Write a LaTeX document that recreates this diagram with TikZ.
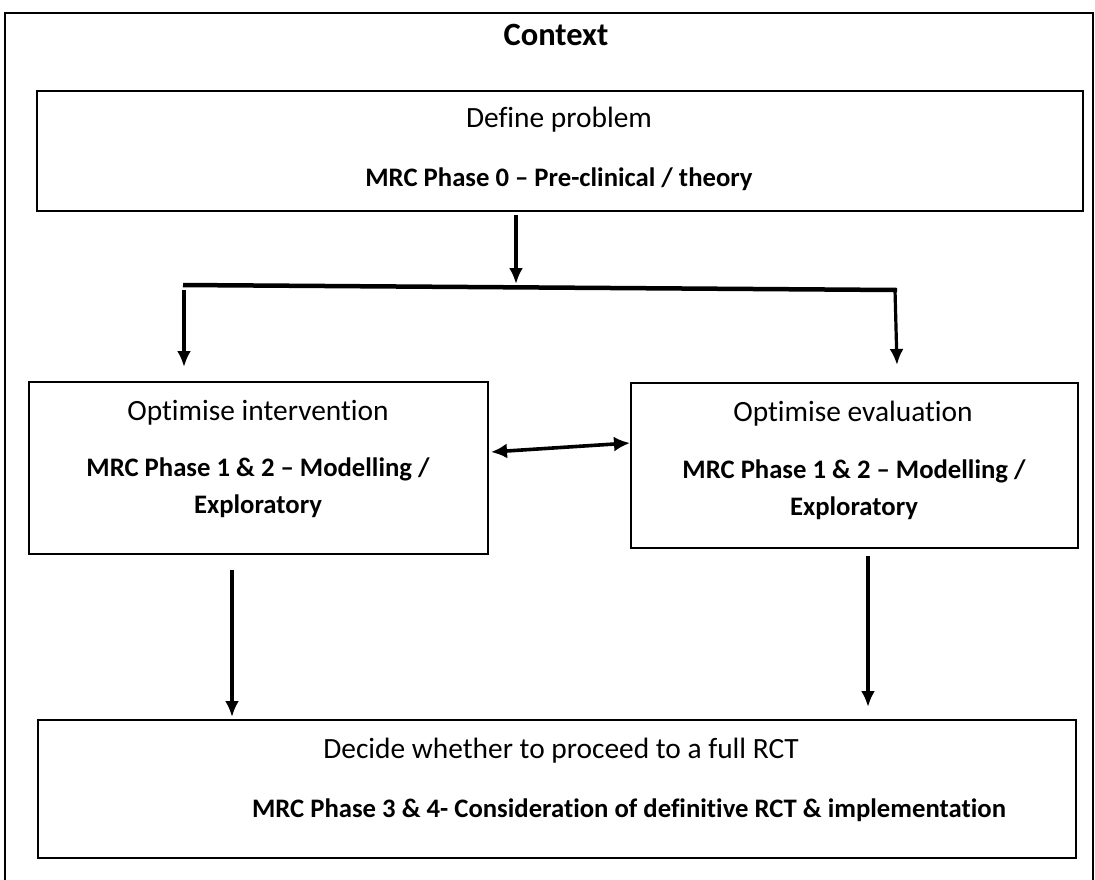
\documentclass[tikz,border=0pt]{standalone}
\usepackage{fontspec}
\setmainfont{Carlito}[Ligatures={NoCommon}]
\usetikzlibrary{arrows.meta}
\begin{document}
\begin{tikzpicture}[x=1pt,y=-1pt,
  box/.style={draw,line width=1.8pt,anchor=north west,inner sep=0pt},
  lbl/.style={font=\fontsize{29.4}{35}\selectfont,inner sep=0pt,anchor=base},
  blbl/.style={font=\fontsize{26.7}{32}\selectfont\bfseries,inner sep=0pt,anchor=base},
  arr/.style={line width=3.2pt,-{Latex[length=16pt,width=14pt]}},
  darr/.style={line width=3.6pt,{Latex[length=16pt,width=15pt]}-{Latex[length=16pt,width=15pt]}}]
\useasboundingbox (0,0) rectangle (1095,879);
% outer frame
\draw[line width=2pt] (5,900) -- (5,13) -- (1093,13) -- (1093,900);
\node[blbl,font=\fontsize{32.5}{38}\selectfont\bfseries] (ctx) at (556,45) {Context};
% box 1
\node[box,minimum width=1046pt,minimum height=120pt] (b1) at (36,90) {};
\node[lbl] (t1a) at (559,127) {Define problem};
\node[blbl] (t1b) at (559,186) {MRC Phase 0 – Pre-clinical / theory};
% box 2
\node[box,minimum width=459pt,minimum height=172pt] (b2) at (28,381) {};
\node[lbl] (t2a) at (258,420) {Optimise intervention};
\node[blbl] (t2b) at (258,476) {MRC Phase 1 \& 2 – Modelling /};
\node[blbl] (t2c) at (258,513) {Exploratory};
% box 3
\node[box,minimum width=447pt,minimum height=165pt] (b3) at (630,382) {};
\node[lbl] (t3a) at (853,421) {Optimise evaluation};
\node[blbl] (t3b) at (854,478) {MRC Phase 1 \& 2 – Modelling /};
\node[blbl] (t3c) at (854,515) {Exploratory};
% box 4
\node[box,minimum width=1038pt,minimum height=138pt] (b4) at (37,719) {};
\node[lbl] (t4a) at (561,758) {Decide whether to proceed to a full RCT};
\node[blbl] (t4b) at (629,817) {MRC Phase 3 \& 4- Consideration of definitive RCT \& implementation};
% connectors
\coordinate (s1) at (516,215);
\coordinate (s1e) at (516,284);
\coordinate (hl) at (183,285);
\coordinate (hr) at (897,290);
\coordinate (la) at (184,290);
\coordinate (le) at (184,367);
\coordinate (ra) at (895,290);
\coordinate (re) at (897,365);
\draw[arr] (s1) -- (s1e);
\draw[line width=4.5pt] (hl) -- (hr);
\draw[arr] (la) -- (le);
\draw[arr] (ra) -- (re);
\coordinate (dl) at (491,452);
\coordinate (dr) at (630,443);
\draw[darr] (dl) -- (dr);
\coordinate (al) at (232,570);
\coordinate (ale) at (232,717);
\coordinate (ar) at (868,556);
\coordinate (are) at (868,707);
\draw[arr] (al) -- (ale);
\draw[arr] (ar) -- (are);
\end{tikzpicture}
\end{document}
